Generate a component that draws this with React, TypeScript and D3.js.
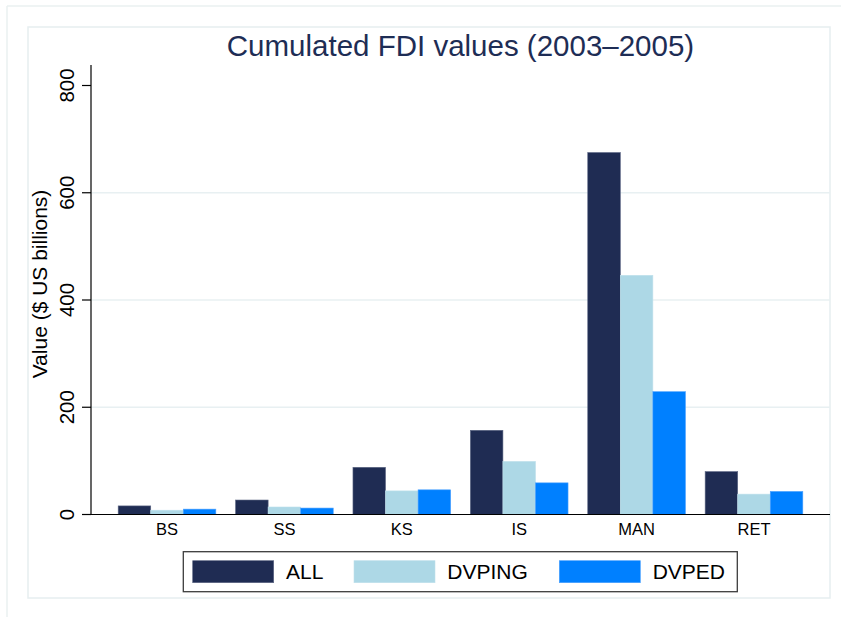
import React from "react";
import * as d3 from "d3";

const categories = ["BS", "SS", "KS", "IS", "MAN", "RET"];
const seriesNames = ["ALL", "DVPING", "DVPED"];
const allValues = [16, 27, 88, 157, 675, 80];
const dvpingValues = [8, 14, 44, 99, 446, 38];
const dvpedValues = [10, 12, 46, 59, 229, 43];
const yTicks = [0, 200, 400, 600, 800];
const gridTicks = [200, 400, 600];
const seriesColors = ["#1f2c53", "#add8e6", "#0080ff"];
const seriesStrokes = ["#5c6684", "#bfe0ec", "#4aa0ff"];
const titleText = "Cumulated FDI values (2003\u20132005)";
const yTitle = "Value ($ US billions)";

const W = 841;
const H = 617;
const FONT = "'Liberation Sans', Arial, Helvetica, sans-serif";

export default function App() {
  const plotLeft = 91;
  const plotRight = 830;
  const y = d3.scaleLinear().domain([0, 800]).range([514.5, 85.5]);
  const axisTopValue = 838;
  const x = d3
    .scaleBand<string>()
    .domain(categories)
    .range([plotLeft, plotRight])
    .paddingInner(0.168)
    .paddingOuter(0.2315);
  const xs = d3.scaleBand<string>().domain(seriesNames).range([0, x.bandwidth()]);
  const seriesData = [allValues, dvpingValues, dvpedValues];

  const legendItems = [
    { sx: 192.7, tx: 286 },
    { sx: 354, tx: 447.3 },
    { sx: 559.3, tx: 652.7 },
  ];

  return (
    <div style={{ position: "absolute", left: 0, top: 0 }}>
      <svg width={W} height={H} style={{ display: "block", background: "#fff" }}>
        {/* outer graph region lines */}
        <line x1={7} y1={6} x2={W} y2={6} stroke="#eaf0f0" strokeWidth={1.5} />
        <line x1={7} y1={6} x2={7} y2={H} stroke="#eaf0f0" strokeWidth={1.5} />
        {/* inner region */}
        <rect x={28} y={27} width={802} height={571} fill="#fff" stroke="#e6eef0" strokeWidth={1.5} />

        {/* title */}
        <text
          x={(plotLeft + plotRight) / 2}
          y={56}
          textAnchor="middle"
          fontFamily={FONT}
          fontSize={29.5}
          fill="#1e2d55"
        >
          {titleText}
        </text>

        {/* gridlines */}
        {gridTicks.map((t) => (
          <line key={t} x1={plotLeft} x2={plotRight} y1={y(t)} y2={y(t)} stroke="#e8f0f2" strokeWidth={1.5} />
        ))}

        {/* bars */}
        {seriesData.map((vals, si) =>
          vals.map((v, ci) => {
            const bx = (x(categories[ci]) as number) + (xs(seriesNames[si]) as number);
            return (
              <rect
                key={`${si}-${ci}`}
                x={bx}
                y={y(v)}
                width={xs.bandwidth()}
                height={y(0) - y(v)}
                fill={seriesColors[si]}
                stroke={seriesStrokes[si]}
                strokeWidth={0.6}
              />
            );
          })
        )}

        {/* y axis */}
        <line x1={plotLeft} x2={plotLeft} y1={y(0)} y2={y(axisTopValue)} stroke="#000" strokeWidth={1.2} />
        {yTicks.map((t) => (
          <g key={t}>
            <line x1={plotLeft - 9} x2={plotLeft} y1={y(t)} y2={y(t)} stroke="#000" strokeWidth={1.2} />
            <text
              transform={`translate(73.5,${y(t)}) rotate(-90)`}
              textAnchor="middle"
              fontFamily={FONT}
              fontSize={20.5}
              fill="#000"
            >
              {t}
            </text>
          </g>
        ))}
        <text
          transform={`translate(46.5,284) rotate(-90)`}
          textAnchor="middle"
          fontFamily={FONT}
          fontSize={21}
          fill="#000"
        >
          {yTitle}
        </text>

        {/* x axis */}
        <line x1={plotLeft} x2={plotRight} y1={y(0)} y2={y(0)} stroke="#000" strokeWidth={1.2} />
        {categories.map((c) => (
          <text
            key={c}
            x={(x(c) as number) + x.bandwidth() / 2}
            y={534.5}
            textAnchor="middle"
            fontFamily={FONT}
            fontSize={16.5}
            fill="#000"
          >
            {c}
          </text>
        ))}

        {/* legend */}
        <rect x={183.3} y={551.7} width={554} height={40} fill="#fff" stroke="#3c3c3c" strokeWidth={1.3} />
        {seriesNames.map((s, i) => (
          <g key={s}>
            <rect
              x={legendItems[i].sx}
              y={560.7}
              width={81}
              height={22}
              fill={seriesColors[i]}
              stroke={seriesStrokes[i]}
              strokeWidth={0.6}
            />
            <text x={legendItems[i].tx} y={578.5} fontFamily={FONT} fontSize={21} fill="#000">
              {s}
            </text>
          </g>
        ))}
      </svg>
    </div>
  );
}
